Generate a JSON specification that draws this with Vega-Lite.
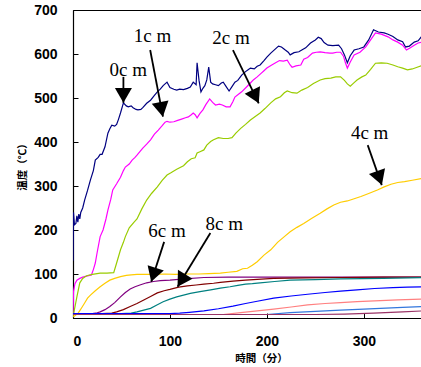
{
  "$schema": "https://vega.github.io/schema/vega-lite/v6.json",
  "width": 349,
  "height": 308,
  "autosize": {"type": "none"},
  "padding": {"left": 73, "top": 10, "right": 0, "bottom": 49},
  "background": "white",
  "config": {
    "view": {"stroke": "black", "strokeWidth": 1},
    "axis": {
      "grid": false,
      "domainColor": "black",
      "domainWidth": 1.2,
      "tickColor": "black",
      "tickSize": -5,
      "tickWidth": 1,
      "labelFont": "Liberation Sans",
      "labelFontWeight": "bold",
      "labelFontSize": 14,
      "labelColor": "black",
      "titleFont": "Noto Sans CJK JP",
      "titleFontWeight": "bold",
      "titleFontSize": 10.5,
      "titleColor": "black"
    }
  },
  "datasets": {
    "series": [
      {"s":"0cm","t":0,"v":130},{"s":"0cm","t":0.5,"v":240},{"s":"0cm","t":1.5,"v":212},{"s":"0cm","t":3,"v":215},{"s":"0cm","t":4,"v":232},{"s":"0cm","t":5,"v":218},{"s":"0cm","t":6,"v":236},{"s":"0cm","t":7,"v":225},{"s":"0cm","t":8,"v":240},{"s":"0cm","t":10,"v":250},{"s":"0cm","t":12,"v":268},{"s":"0cm","t":15,"v":290},{"s":"0cm","t":18,"v":314},{"s":"0cm","t":21,"v":335},{"s":"0cm","t":23,"v":359},{"s":"0cm","t":26,"v":365},{"s":"0cm","t":28,"v":372},{"s":"0cm","t":30,"v":372},{"s":"0cm","t":33,"v":389},{"s":"0cm","t":36,"v":420},{"s":"0cm","t":38,"v":430},{"s":"0cm","t":40,"v":438},{"s":"0cm","t":43,"v":436},{"s":"0cm","t":45,"v":440},{"s":"0cm","t":47,"v":452},{"s":"0cm","t":49,"v":466},{"s":"0cm","t":52,"v":489},{"s":"0cm","t":55,"v":482},{"s":"0cm","t":57,"v":480},{"s":"0cm","t":60,"v":482},{"s":"0cm","t":62,"v":478},{"s":"0cm","t":65,"v":474},{"s":"0cm","t":67,"v":473},{"s":"0cm","t":70,"v":474},{"s":"0cm","t":72,"v":478},{"s":"0cm","t":76,"v":488},{"s":"0cm","t":80,"v":495},{"s":"0cm","t":84,"v":506},{"s":"0cm","t":87,"v":514},{"s":"0cm","t":90,"v":520},{"s":"0cm","t":93,"v":528},{"s":"0cm","t":97,"v":536},{"s":"0cm","t":100,"v":524},{"s":"0cm","t":104,"v":520},{"s":"0cm","t":107,"v":518},{"s":"0cm","t":110,"v":520},{"s":"0cm","t":114,"v":519},{"s":"0cm","t":118,"v":522},{"s":"0cm","t":121,"v":525},{"s":"0cm","t":124,"v":536},{"s":"0cm","t":127,"v":530},{"s":"0cm","t":128,"v":580},{"s":"0cm","t":130,"v":540},{"s":"0cm","t":132,"v":514},{"s":"0cm","t":134,"v":522},{"s":"0cm","t":136,"v":528},{"s":"0cm","t":138,"v":541},{"s":"0cm","t":140,"v":570},{"s":"0cm","t":142,"v":536},{"s":"0cm","t":144,"v":532},{"s":"0cm","t":147,"v":530},{"s":"0cm","t":150,"v":528},{"s":"0cm","t":153,"v":534},{"s":"0cm","t":155,"v":536},{"s":"0cm","t":158,"v":526},{"s":"0cm","t":161,"v":516},{"s":"0cm","t":164,"v":526},{"s":"0cm","t":167,"v":536},{"s":"0cm","t":170,"v":540},{"s":"0cm","t":174,"v":552},{"s":"0cm","t":178,"v":560},{"s":"0cm","t":181,"v":565},{"s":"0cm","t":183,"v":568},{"s":"0cm","t":187,"v":566},{"s":"0cm","t":190,"v":572},{"s":"0cm","t":193,"v":575},{"s":"0cm","t":197,"v":585},{"s":"0cm","t":200,"v":593},{"s":"0cm","t":204,"v":602},{"s":"0cm","t":208,"v":610},{"s":"0cm","t":212,"v":618},{"s":"0cm","t":215,"v":616},{"s":"0cm","t":219,"v":609},{"s":"0cm","t":222,"v":604},{"s":"0cm","t":224,"v":598},{"s":"0cm","t":228,"v":603},{"s":"0cm","t":233,"v":605},{"s":"0cm","t":236,"v":609},{"s":"0cm","t":240,"v":614},{"s":"0cm","t":245,"v":625},{"s":"0cm","t":250,"v":632},{"s":"0cm","t":253,"v":638},{"s":"0cm","t":256,"v":635},{"s":"0cm","t":259,"v":626},{"s":"0cm","t":263,"v":620},{"s":"0cm","t":268,"v":619},{"s":"0cm","t":274,"v":620},{"s":"0cm","t":277,"v":612},{"s":"0cm","t":280,"v":598},{"s":"0cm","t":283,"v":580},{"s":"0cm","t":286,"v":596},{"s":"0cm","t":290,"v":609},{"s":"0cm","t":295,"v":612},{"s":"0cm","t":300,"v":616},{"s":"0cm","t":305,"v":632},{"s":"0cm","t":310,"v":655},{"s":"0cm","t":315,"v":650},{"s":"0cm","t":321,"v":648},{"s":"0cm","t":325,"v":645},{"s":"0cm","t":330,"v":640},{"s":"0cm","t":335,"v":632},{"s":"0cm","t":340,"v":628},{"s":"0cm","t":343,"v":616},{"s":"0cm","t":347,"v":618},{"s":"0cm","t":352,"v":627},{"s":"0cm","t":356,"v":630},{"s":"0cm","t":360,"v":641},

      {"s":"1cm","t":0,"v":5},{"s":"1cm","t":0.5,"v":60},{"s":"1cm","t":2,"v":78},{"s":"1cm","t":4,"v":86},{"s":"1cm","t":7,"v":90},{"s":"1cm","t":10,"v":93},{"s":"1cm","t":14,"v":95},{"s":"1cm","t":19,"v":98},{"s":"1cm","t":21,"v":110},{"s":"1cm","t":23,"v":125},{"s":"1cm","t":25,"v":150},{"s":"1cm","t":28,"v":185},{"s":"1cm","t":31,"v":200},{"s":"1cm","t":34,"v":225},{"s":"1cm","t":36,"v":245},{"s":"1cm","t":39,"v":270},{"s":"1cm","t":41,"v":291},{"s":"1cm","t":45,"v":305},{"s":"1cm","t":49,"v":320},{"s":"1cm","t":52,"v":335},{"s":"1cm","t":54,"v":343},{"s":"1cm","t":58,"v":350},{"s":"1cm","t":61,"v":359},{"s":"1cm","t":64,"v":365},{"s":"1cm","t":66,"v":370},{"s":"1cm","t":69,"v":378},{"s":"1cm","t":72,"v":386},{"s":"1cm","t":76,"v":395},{"s":"1cm","t":80,"v":405},{"s":"1cm","t":84,"v":418},{"s":"1cm","t":88,"v":427},{"s":"1cm","t":92,"v":437},{"s":"1cm","t":95,"v":445},{"s":"1cm","t":97,"v":447},{"s":"1cm","t":100,"v":445},{"s":"1cm","t":104,"v":446},{"s":"1cm","t":108,"v":449},{"s":"1cm","t":112,"v":452},{"s":"1cm","t":116,"v":455},{"s":"1cm","t":119,"v":457},{"s":"1cm","t":122,"v":462},{"s":"1cm","t":124,"v":466},{"s":"1cm","t":126,"v":462},{"s":"1cm","t":128,"v":455},{"s":"1cm","t":131,"v":465},{"s":"1cm","t":134,"v":473},{"s":"1cm","t":137,"v":485},{"s":"1cm","t":141,"v":498},{"s":"1cm","t":144,"v":490},{"s":"1cm","t":147,"v":484},{"s":"1cm","t":151,"v":486},{"s":"1cm","t":154,"v":484},{"s":"1cm","t":158,"v":480},{"s":"1cm","t":162,"v":480},{"s":"1cm","t":165,"v":492},{"s":"1cm","t":167,"v":502},{"s":"1cm","t":171,"v":509},{"s":"1cm","t":174,"v":514},{"s":"1cm","t":179,"v":525},{"s":"1cm","t":183,"v":534},{"s":"1cm","t":186,"v":541},{"s":"1cm","t":190,"v":548},{"s":"1cm","t":194,"v":556},{"s":"1cm","t":197,"v":562},{"s":"1cm","t":200,"v":568},{"s":"1cm","t":205,"v":575},{"s":"1cm","t":209,"v":580},{"s":"1cm","t":213,"v":585},{"s":"1cm","t":217,"v":584},{"s":"1cm","t":221,"v":586},{"s":"1cm","t":224,"v":575},{"s":"1cm","t":226,"v":570},{"s":"1cm","t":230,"v":573},{"s":"1cm","t":235,"v":575},{"s":"1cm","t":238,"v":588},{"s":"1cm","t":242,"v":592},{"s":"1cm","t":247,"v":602},{"s":"1cm","t":251,"v":604},{"s":"1cm","t":255,"v":605},{"s":"1cm","t":260,"v":603},{"s":"1cm","t":265,"v":602},{"s":"1cm","t":268,"v":602},{"s":"1cm","t":272,"v":604},{"s":"1cm","t":276,"v":604},{"s":"1cm","t":279,"v":595},{"s":"1cm","t":281,"v":580},{"s":"1cm","t":283,"v":568},{"s":"1cm","t":286,"v":582},{"s":"1cm","t":290,"v":598},{"s":"1cm","t":296,"v":604},{"s":"1cm","t":302,"v":616},{"s":"1cm","t":307,"v":632},{"s":"1cm","t":312,"v":648},{"s":"1cm","t":318,"v":645},{"s":"1cm","t":325,"v":639},{"s":"1cm","t":330,"v":632},{"s":"1cm","t":335,"v":627},{"s":"1cm","t":340,"v":620},{"s":"1cm","t":344,"v":609},{"s":"1cm","t":348,"v":614},{"s":"1cm","t":352,"v":620},{"s":"1cm","t":356,"v":625},{"s":"1cm","t":360,"v":627},

      {"s":"2cm","t":0,"v":3},{"s":"2cm","t":2,"v":25},{"s":"2cm","t":4,"v":48},{"s":"2cm","t":7,"v":80},{"s":"2cm","t":10,"v":90},{"s":"2cm","t":14,"v":96},{"s":"2cm","t":20,"v":99},{"s":"2cm","t":28,"v":102},{"s":"2cm","t":35,"v":102},{"s":"2cm","t":42,"v":103},{"s":"2cm","t":45,"v":125},{"s":"2cm","t":49,"v":155},{"s":"2cm","t":52,"v":172},{"s":"2cm","t":54,"v":185},{"s":"2cm","t":58,"v":205},{"s":"2cm","t":63,"v":218},{"s":"2cm","t":66,"v":225},{"s":"2cm","t":71,"v":248},{"s":"2cm","t":76,"v":268},{"s":"2cm","t":81,"v":283},{"s":"2cm","t":87,"v":298},{"s":"2cm","t":92,"v":313},{"s":"2cm","t":97,"v":325},{"s":"2cm","t":101,"v":330},{"s":"2cm","t":107,"v":338},{"s":"2cm","t":114,"v":346},{"s":"2cm","t":118,"v":355},{"s":"2cm","t":122,"v":362},{"s":"2cm","t":126,"v":364},{"s":"2cm","t":128,"v":375},{"s":"2cm","t":131,"v":378},{"s":"2cm","t":135,"v":382},{"s":"2cm","t":138,"v":393},{"s":"2cm","t":142,"v":401},{"s":"2cm","t":145,"v":405},{"s":"2cm","t":150,"v":410},{"s":"2cm","t":155,"v":408},{"s":"2cm","t":160,"v":408},{"s":"2cm","t":164,"v":410},{"s":"2cm","t":168,"v":420},{"s":"2cm","t":173,"v":431},{"s":"2cm","t":178,"v":440},{"s":"2cm","t":183,"v":450},{"s":"2cm","t":188,"v":458},{"s":"2cm","t":193,"v":466},{"s":"2cm","t":198,"v":476},{"s":"2cm","t":204,"v":489},{"s":"2cm","t":209,"v":498},{"s":"2cm","t":214,"v":503},{"s":"2cm","t":218,"v":512},{"s":"2cm","t":221,"v":516},{"s":"2cm","t":226,"v":512},{"s":"2cm","t":231,"v":511},{"s":"2cm","t":236,"v":518},{"s":"2cm","t":242,"v":524},{"s":"2cm","t":248,"v":533},{"s":"2cm","t":255,"v":541},{"s":"2cm","t":260,"v":544},{"s":"2cm","t":266,"v":545},{"s":"2cm","t":271,"v":548},{"s":"2cm","t":276,"v":548},{"s":"2cm","t":280,"v":540},{"s":"2cm","t":283,"v":532},{"s":"2cm","t":286,"v":527},{"s":"2cm","t":290,"v":535},{"s":"2cm","t":293,"v":541},{"s":"2cm","t":298,"v":548},{"s":"2cm","t":302,"v":552},{"s":"2cm","t":307,"v":565},{"s":"2cm","t":312,"v":579},{"s":"2cm","t":318,"v":580},{"s":"2cm","t":324,"v":579},{"s":"2cm","t":330,"v":575},{"s":"2cm","t":335,"v":571},{"s":"2cm","t":340,"v":568},{"s":"2cm","t":345,"v":564},{"s":"2cm","t":350,"v":566},{"s":"2cm","t":355,"v":570},{"s":"2cm","t":360,"v":574},

      {"s":"4cm","t":0,"v":2},{"s":"4cm","t":5,"v":10},{"s":"4cm","t":8,"v":20},{"s":"4cm","t":12,"v":34},{"s":"4cm","t":15,"v":45},{"s":"4cm","t":18,"v":52},{"s":"4cm","t":23,"v":62},{"s":"4cm","t":28,"v":71},{"s":"4cm","t":33,"v":79},{"s":"4cm","t":38,"v":86},{"s":"4cm","t":43,"v":90},{"s":"4cm","t":49,"v":94},{"s":"4cm","t":55,"v":97},{"s":"4cm","t":60,"v":98},{"s":"4cm","t":66,"v":99},{"s":"4cm","t":83,"v":99},{"s":"4cm","t":95,"v":100},{"s":"4cm","t":105,"v":99},{"s":"4cm","t":118,"v":100},{"s":"4cm","t":130,"v":100},{"s":"4cm","t":140,"v":101},{"s":"4cm","t":152,"v":102},{"s":"4cm","t":160,"v":104},{"s":"4cm","t":169,"v":106},{"s":"4cm","t":175,"v":112},{"s":"4cm","t":180,"v":113},{"s":"4cm","t":185,"v":120},{"s":"4cm","t":190,"v":128},{"s":"4cm","t":197,"v":143},{"s":"4cm","t":204,"v":155},{"s":"4cm","t":211,"v":172},{"s":"4cm","t":218,"v":185},{"s":"4cm","t":224,"v":196},{"s":"4cm","t":231,"v":206},{"s":"4cm","t":238,"v":215},{"s":"4cm","t":246,"v":226},{"s":"4cm","t":255,"v":238},{"s":"4cm","t":262,"v":248},{"s":"4cm","t":269,"v":257},{"s":"4cm","t":276,"v":263},{"s":"4cm","t":283,"v":266},{"s":"4cm","t":290,"v":271},{"s":"4cm","t":297,"v":276},{"s":"4cm","t":305,"v":283},{"s":"4cm","t":314,"v":291},{"s":"4cm","t":321,"v":298},{"s":"4cm","t":328,"v":304},{"s":"4cm","t":335,"v":308},{"s":"4cm","t":342,"v":310},{"s":"4cm","t":350,"v":313},{"s":"4cm","t":360,"v":317},

      {"s":"6cm","t":0,"v":10},{"s":"6cm","t":20,"v":10},{"s":"6cm","t":25,"v":12},{"s":"6cm","t":28,"v":14},{"s":"6cm","t":33,"v":19},{"s":"6cm","t":38,"v":26},{"s":"6cm","t":43,"v":35},{"s":"6cm","t":49,"v":48},{"s":"6cm","t":54,"v":58},{"s":"6cm","t":59,"v":66},{"s":"6cm","t":64,"v":71},{"s":"6cm","t":69,"v":75},{"s":"6cm","t":76,"v":80},{"s":"6cm","t":83,"v":83},{"s":"6cm","t":90,"v":85},{"s":"6cm","t":100,"v":86},{"s":"6cm","t":115,"v":89},{"s":"6cm","t":135,"v":92},{"s":"6cm","t":160,"v":93},{"s":"6cm","t":250,"v":93},{"s":"6cm","t":360,"v":93},

      {"s":"8cm","t":0,"v":10},{"s":"8cm","t":30,"v":10},{"s":"8cm","t":40,"v":11},{"s":"8cm","t":45,"v":14},{"s":"8cm","t":52,"v":19},{"s":"8cm","t":59,"v":26},{"s":"8cm","t":66,"v":33},{"s":"8cm","t":73,"v":41},{"s":"8cm","t":80,"v":49},{"s":"8cm","t":87,"v":57},{"s":"8cm","t":94,"v":62},{"s":"8cm","t":100,"v":65},{"s":"8cm","t":109,"v":70},{"s":"8cm","t":118,"v":73},{"s":"8cm","t":127,"v":75},{"s":"8cm","t":135,"v":77},{"s":"8cm","t":145,"v":79},{"s":"8cm","t":152,"v":81},{"s":"8cm","t":165,"v":84},{"s":"8cm","t":178,"v":86},{"s":"8cm","t":190,"v":88},{"s":"8cm","t":207,"v":90},{"s":"8cm","t":240,"v":91},{"s":"8cm","t":276,"v":92},{"s":"8cm","t":320,"v":93},{"s":"8cm","t":360,"v":93},

      {"s":"10cm","t":0,"v":10},{"s":"10cm","t":50,"v":10},{"s":"10cm","t":60,"v":11},{"s":"10cm","t":66,"v":14},{"s":"10cm","t":73,"v":18},{"s":"10cm","t":80,"v":22},{"s":"10cm","t":87,"v":30},{"s":"10cm","t":93,"v":37},{"s":"10cm","t":100,"v":43},{"s":"10cm","t":107,"v":48},{"s":"10cm","t":114,"v":52},{"s":"10cm","t":121,"v":56},{"s":"10cm","t":131,"v":60},{"s":"10cm","t":142,"v":64},{"s":"10cm","t":152,"v":68},{"s":"10cm","t":162,"v":71},{"s":"10cm","t":170,"v":74},{"s":"10cm","t":178,"v":77},{"s":"10cm","t":185,"v":78},{"s":"10cm","t":193,"v":80},{"s":"10cm","t":208,"v":83},{"s":"10cm","t":224,"v":86},{"s":"10cm","t":250,"v":87},{"s":"10cm","t":276,"v":89},{"s":"10cm","t":320,"v":90},{"s":"10cm","t":360,"v":92},

      {"s":"12cm","t":0,"v":10},{"s":"12cm","t":100,"v":10},{"s":"12cm","t":110,"v":11},{"s":"12cm","t":120,"v":13},{"s":"12cm","t":135,"v":16},{"s":"12cm","t":150,"v":21},{"s":"12cm","t":165,"v":27},{"s":"12cm","t":178,"v":33},{"s":"12cm","t":190,"v":38},{"s":"12cm","t":207,"v":45},{"s":"12cm","t":225,"v":50},{"s":"12cm","t":242,"v":54},{"s":"12cm","t":260,"v":58},{"s":"12cm","t":276,"v":61},{"s":"12cm","t":293,"v":64},{"s":"12cm","t":311,"v":67},{"s":"12cm","t":330,"v":69},{"s":"12cm","t":345,"v":70},{"s":"12cm","t":360,"v":71},

      {"s":"14cm","t":0,"v":8},{"s":"14cm","t":155,"v":8},{"s":"14cm","t":173,"v":12},{"s":"14cm","t":190,"v":16},{"s":"14cm","t":207,"v":20},{"s":"14cm","t":225,"v":25},{"s":"14cm","t":242,"v":30},{"s":"14cm","t":260,"v":33},{"s":"14cm","t":276,"v":35},{"s":"14cm","t":293,"v":37},{"s":"14cm","t":311,"v":39},{"s":"14cm","t":335,"v":41},{"s":"14cm","t":360,"v":43},

      {"s":"16cm","t":0,"v":8},{"s":"16cm","t":200,"v":8},{"s":"16cm","t":224,"v":12},{"s":"16cm","t":250,"v":15},{"s":"16cm","t":276,"v":18},{"s":"16cm","t":300,"v":20},{"s":"16cm","t":317,"v":22},{"s":"16cm","t":340,"v":24},{"s":"16cm","t":360,"v":26},

      {"s":"18cm","t":0,"v":8},{"s":"18cm","t":250,"v":8},{"s":"18cm","t":280,"v":9},{"s":"18cm","t":310,"v":11},{"s":"18cm","t":340,"v":14},{"s":"18cm","t":360,"v":16}
    ],
    "labels": [
      {"label":"0c m","t":57,"v":564},
      {"label":"1c m","t":82,"v":641},
      {"label":"2c m","t":163,"v":636},
      {"label":"4c m","t":306,"v":420},
      {"label":"6c m","t":97,"v":198},
      {"label":"8c m","t":156,"v":214}
    ],
    "arrows": [
      {"label":"0cm","t1":52,"v1":548,"t2":52,"v2":489,"ht":52,"hv":506},
      {"label":"1cm","t1":79.6,"v1":609,"t2":92.8,"v2":457.5,"ht":91.3,"hv":474},
      {"label":"2cm","t1":165,"v1":609,"t2":191.6,"v2":488,"ht":188.3,"hv":503},
      {"label":"4cm","t1":304,"v1":393,"t2":318.5,"v2":302,"ht":316.1,"hv":318},
      {"label":"6cm","t1":94,"v1":173,"t2":80.7,"v2":82.5,"ht":83,"hv":98.2},
      {"label":"8cm","t1":141.7,"v1":193,"t2":107.9,"v2":71,"ht":111.8,"hv":85.2}
    ]
  },
  "layer": [
    {
      "data": {"name": "series"},
      "mark": {"type": "line", "strokeWidth": 1.2, "clip": true},
      "encoding": {
        "x": {
          "field": "t", "type": "quantitative",
          "scale": {"domain": [0, 360], "nice": false, "zero": false},
          "axis": {
            "values": [0, 100, 200, 300],
            "labelPadding": 21,
            "title": "時間（分）",
            "titleX": 188,
            "titleY": 40,
            "titleAlign": "center",
            "titleBaseline": "middle"
          }
        },
        "y": {
          "field": "v", "type": "quantitative",
          "scale": {"domain": [0, 700], "nice": false},
          "axis": {
            "values": [0, 100, 200, 300, 400, 500, 600, 700],
            "labelPadding": 21,
            "title": "温度（℃）",
            "titleX": -51,
            "titleY": 154,
            "titleAngle": -90,
            "titleAlign": "center",
            "titleBaseline": "middle"
          }
        },
        "color": {
          "field": "s", "type": "nominal", "legend": null,
          "scale": {
            "domain": ["0cm","1cm","2cm","4cm","6cm","8cm","10cm","12cm","14cm","16cm","18cm"],
            "range": ["#000080","#ff00ff","#99cc00","#ffcc00","#800080","#800000","#008080","#0000ff","#ff8080","#3377dd","#993366"]
          }
        }
      }
    },
    {
      "data": {"name": "arrows"},
      "mark": {"type": "rule", "color": "black", "strokeWidth": 1.8},
      "encoding": {
        "x": {"field": "t1", "type": "quantitative"},
        "y": {"field": "v1", "type": "quantitative"},
        "x2": {"field": "t2"},
        "y2": {"field": "v2"}
      }
    },
    {
      "data": {"name": "arrows"},
      "transform": [
        {"calculate": "atan2((datum.t2 - datum.t1) * 0.967, (datum.v2 - datum.v1) * 0.44) * 180 / PI", "as": "ang"}
      ],
      "mark": {"type": "point", "shape": "triangle-up", "filled": true, "color": "black", "size": 290, "opacity": 1},
      "encoding": {
        "x": {"field": "ht", "type": "quantitative"},
        "y": {"field": "hv", "type": "quantitative"},
        "angle": {"field": "ang", "type": "quantitative", "scale": null}
      }
    },
    {
      "data": {"name": "labels"},
      "mark": {"type": "text", "font": "Liberation Serif", "fontSize": 19, "color": "black", "align": "center", "baseline": "middle"},
      "encoding": {
        "x": {"field": "t", "type": "quantitative"},
        "y": {"field": "v", "type": "quantitative"},
        "text": {"field": "label"}
      }
    }
  ]
}
